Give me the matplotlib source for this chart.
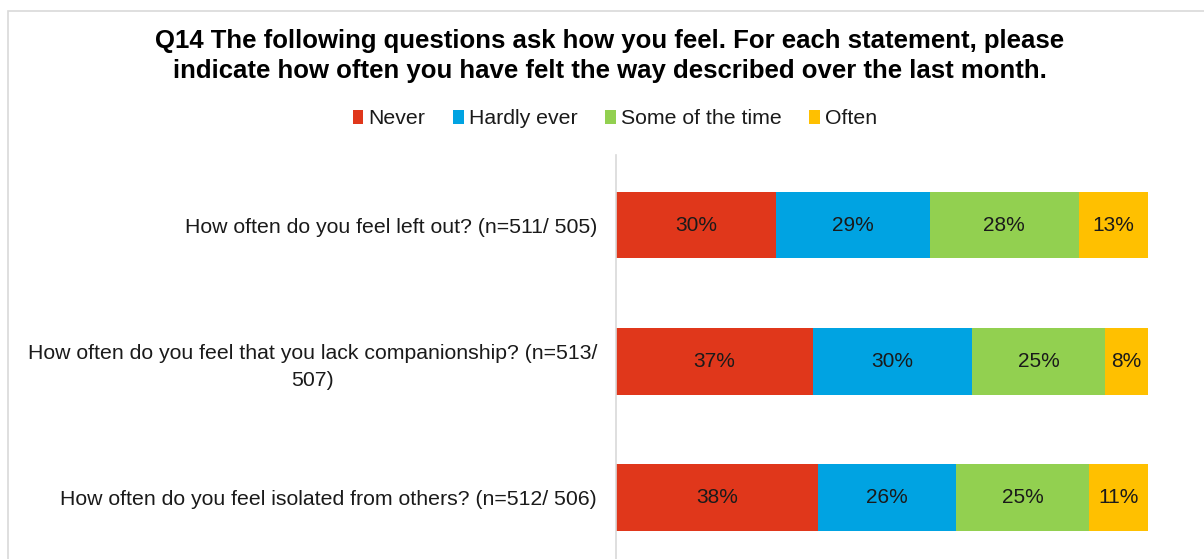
import matplotlib
matplotlib.use("Agg")
import matplotlib.pyplot as plt
from matplotlib.patches import Patch, Rectangle

plt.rcParams['font.family'] = ['Liberation Sans', 'DejaVu Sans']

categories = [
    "How often do you feel left out? (n=511/ 505)",
    "How often do you feel that you lack companionship? (n=513/\n507)",
    "How often do you feel isolated from others? (n=512/ 506)",
]
series_names = ["Never", "Hardly ever", "Some of the time", "Often"]
never = [30, 37, 38]
hardly_ever = [29, 30, 26]
some_of_the_time = [28, 25, 25]
often = [13, 8, 11]
colors = ["#E0371B", "#00A3E2", "#92D050", "#FFC000"]

values = [never, hardly_ever, some_of_the_time, often]

W, H = 1204, 559
fig = plt.figure(figsize=(W / 100, H / 100), dpi=100)

# outer chart border
fig.patches.append(Rectangle((8 / W, -0.1), 1.2, (H - 11) / H + 0.1, transform=fig.transFigure,
                             fill=False, edgecolor="#D9D9D9", linewidth=1.2, zorder=0))

ax = fig.add_axes([616 / W, 0, (1148 - 616) / W, (H - 155) / H])
ypos = list(range(len(categories)))
left = [0] * len(categories)
for name, vals, col in zip(series_names, values, colors):
    ax.barh(ypos, vals, left=left, height=0.49, color=col, label=name)
    for yi, (l, v) in enumerate(zip(left, vals)):
        ax.text(l + v / 2, yi, f"{v}%", ha="center", va="center", fontsize=15, color="#1a1a1a")
    left = [a + b for a, b in zip(left, vals)]

ax.set_xlim(0, 100)
ax.set_ylim(2.452, -0.515)
ax.set_yticks(ypos)
ax.set_yticklabels(categories, fontsize=15.3, color="#1a1a1a")
for lbl in ax.get_yticklabels():
    lbl.set_multialignment("center")
    lbl.set_linespacing(1.5)
ax.tick_params(axis="y", length=0, pad=13.5)
ax.set_xticks([])
for s in ["top", "right", "bottom"]:
    ax.spines[s].set_visible(False)
ax.spines["left"].set_color("#D9D9D9")
ax.spines["left"].set_linewidth(1.2)

fig.text(610 / W, 1 - 56 / H,
         "Q14 The following questions ask how you feel. For each statement, please\n"
         "indicate how often you have felt the way described over the last month.",
         ha="center", va="center", fontsize=18.5, fontweight="bold", color="#000000",
         linespacing=1.35)

handles = [Patch(facecolor=c, edgecolor="none") for c in colors]
fig.legend(handles, series_names, loc="center", bbox_to_anchor=(615 / W, 1 - 119 / H), ncol=4,
           frameon=False, fontsize=15.3, handlelength=0.5, handleheight=0.6, handletextpad=0.25,
           columnspacing=1.3, labelcolor="#1a1a1a")

fig.savefig("out.png", dpi=100)
